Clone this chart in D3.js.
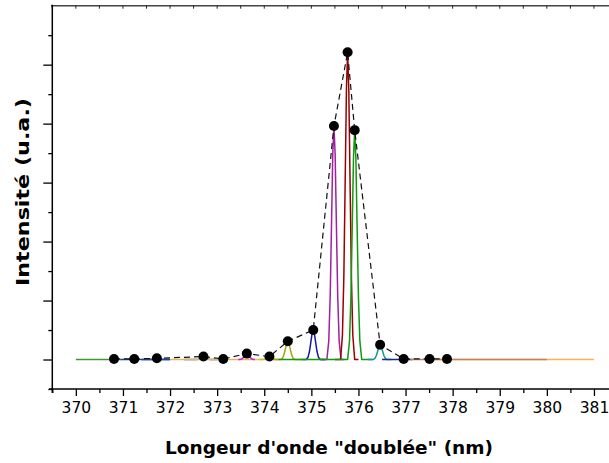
<!DOCTYPE html>
<html><head><meta charset="utf-8">
<script src="https://cdn.jsdelivr.net/npm/d3@7"></script>
<style>body{margin:0;background:#fff}svg{display:block}</style>
</head><body>
<svg id="chart" width="609" height="463"></svg>
<script>
// ---- data ----
const xTickLabels = [370, 371, 372, 373, 374, 375, 376, 377, 378, 379, 380, 381];
const xMinorTicks = [369.5, 370.5, 371.5, 372.5, 373.5, 374.5, 375.5, 376.5, 377.5, 378.5, 379.5, 380.5, 381.5];
const yMajorTicks = [0, 1, 2, 3, 4, 5];
const yMinorTicks = [-0.5, 0.5, 1.5, 2.5, 3.5, 4.5, 5.5];

// peak maxima (black dots) in wavelength order
const peakNm  = [370.81, 371.24, 371.72, 372.71, 373.13, 373.63, 374.11, 374.50, 375.04, 375.48, 375.77, 375.92, 376.46, 376.96, 377.51, 377.88];
const peakVal = [0.01,   0.01,   0.02,   0.05,   0.01,   0.10,   0.05,   0.31,   0.50,   3.96,   5.21,   3.89,   0.25,   0.01,   0.01,   0.01];

// individual spectra, listed in drawing order (index into the peak arrays)
const specPeak  = [15, 0, 1, 2, 3, 4, 5, 6, 7, 8, 9, 10, 11, 12, 13, 14];
const specStart = [377.6, 370.0, 370.95, 371.4, 372.3, 372.0, 373.45, 373.9, 374.2, 374.8, 375.2, 375.5, 374.3, 376.2, 376.5, 377.1];
const specEnd   = [381.0, 370.95, 372.0, 372.0, 373.0, 374.3, 373.8, 374.3, 374.8, 375.3, 375.7, 376.0, 376.3, 376.7, 377.15, 380.0];
const specColor = ["#ffb347", "#3c9a2e", "#2040b0", "#2040b0", "#2040b0", "#e0b868", "#cc22cc", "#c8c020", "#a8a010", "#1a1a9a", "#a020a0", "#990000", "#119911", "#119999", "#1a2a8a", "#c08060"];

// line profile (offset in nm, relative height)
const profOffset = [-0.15, -0.11, -0.08, -0.05, -0.025, 0, 0.025, 0.05, 0.08, 0.11, 0.15];
const profRel    = [0, 0.08, 0.27, 0.6, 0.88, 1, 0.88, 0.6, 0.27, 0.08, 0];

// ---- drawing ----
const svg = d3.select("#chart");
const x = d3.scaleLinear().domain([369.5, 381.5]).range([52.3, 617.5]);
const y = d3.scaleLinear().domain([-0.5, 6]).range([389, 5.7]);

// top border with small ticks
svg.append("line").attr("x1", 51).attr("x2", 609).attr("y1", y(6)).attr("y2", y(6))
  .attr("stroke", "#444").attr("stroke-width", 1.6);
svg.append("g").selectAll("line").data(xMinorTicks.concat(xTickLabels)).join("line")
  .attr("x1", d => x(d)).attr("x2", d => x(d)).attr("y1", y(6)).attr("y2", y(6) + 3)
  .attr("stroke", "#222").attr("stroke-width", 1);

// spectra
const line = d3.line().x(d => x(d[0])).y(d => y(d[1]));
const gSpec = svg.append("g");
specPeak.forEach((pi, i) => {
  const pts = [[specStart[i], 0]];
  profOffset.forEach((o, k) => pts.push([peakNm[pi] + o, peakVal[pi] * profRel[k]]));
  pts.push([specEnd[i], 0]);
  gSpec.append("path").attr("d", line(pts)).attr("fill", "none")
    .attr("stroke", specColor[i]).attr("stroke-width", 1.5).attr("stroke-linejoin", "round");
});

// dashed envelope
const pk = peakNm.map((n, i) => [n, peakVal[i]]);
svg.append("path").attr("d", line(pk)).attr("fill", "none")
  .attr("stroke", "#111").attr("stroke-width", 1.2).attr("stroke-dasharray", "6,4");
svg.append("g").selectAll("circle").data(pk).join("circle")
  .attr("cx", d => x(d[0])).attr("cy", d => y(d[1])).attr("r", 5).attr("fill", "#000");

// bottom axis
const gxMinor = svg.append("g").attr("transform", `translate(0,${y(-0.5)})`)
  .call(d3.axisBottom(x).tickValues(xMinorTicks).tickSize(4).tickFormat(""));
const gx = svg.append("g").attr("transform", `translate(0,${y(-0.5)})`)
  .call(d3.axisBottom(x).tickValues(xTickLabels).tickSize(7).tickPadding(6).tickFormat(d3.format("d")));
[gxMinor, gx].forEach(g => { g.select(".domain").remove(); g.selectAll("line").attr("stroke", "#000").attr("stroke-width", 1.3); });
gx.selectAll("text").attr("font-family", "DejaVu Sans, sans-serif").attr("font-size", 15.5).attr("fill", "#000");
svg.append("line").attr("x1", 49).attr("x2", 609).attr("y1", y(-0.5)).attr("y2", y(-0.5))
  .attr("stroke", "#000").attr("stroke-width", 1.5);

// left axis
const gyMinor = svg.append("g").attr("transform", `translate(${x(369.5)},0)`)
  .call(d3.axisLeft(y).tickValues(yMinorTicks).tickSize(4).tickFormat(""));
const gy = svg.append("g").attr("transform", `translate(${x(369.5)},0)`)
  .call(d3.axisLeft(y).tickValues(yMajorTicks).tickSize(9).tickFormat(""));
[gyMinor, gy].forEach(g => { g.select(".domain").remove(); g.selectAll("line").attr("stroke", "#000").attr("stroke-width", 1.3); });
svg.append("line").attr("x1", x(369.5)).attr("x2", x(369.5)).attr("y1", y(6) - 1).attr("y2", y(-0.5) + 4)
  .attr("stroke", "#000").attr("stroke-width", 1.5);

// titles
svg.append("text").attr("x", 329).attr("y", 454).attr("text-anchor", "middle")
  .attr("font-family", "DejaVu Sans, sans-serif").attr("font-weight", "bold").attr("font-size", 18)
  .attr("textLength", 328).attr("lengthAdjust", "spacingAndGlyphs")
  .text("Longeur d'onde \"doublée\" (nm)");
svg.append("text").attr("transform", "translate(29,192) rotate(-90)").attr("text-anchor", "middle")
  .attr("font-family", "DejaVu Sans, sans-serif").attr("font-weight", "bold").attr("font-size", 18)
  .attr("textLength", 188).attr("lengthAdjust", "spacingAndGlyphs")
  .text("Intensité (u.a.)");
</script>
</body></html>
